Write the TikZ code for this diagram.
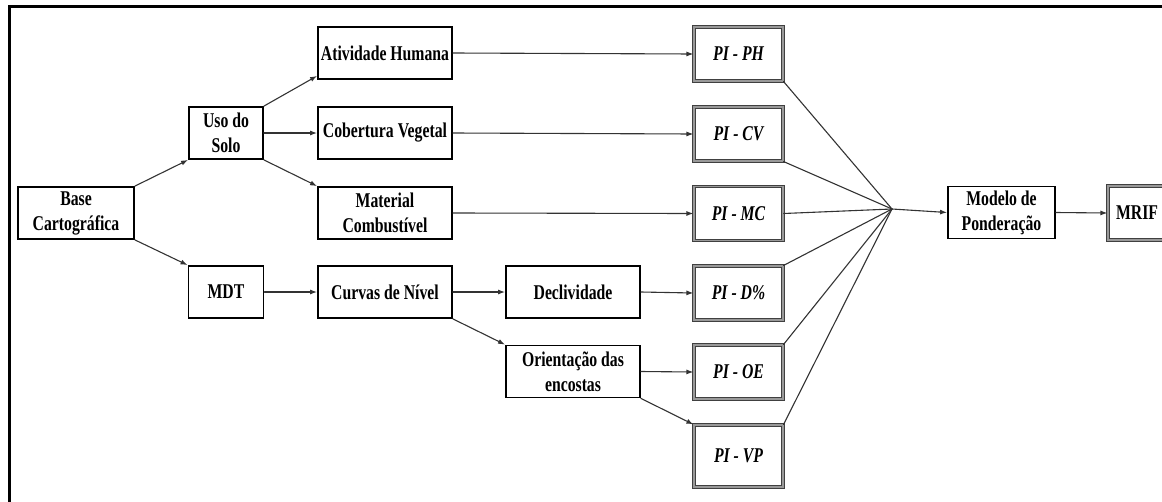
\documentclass[tikz,border=0pt]{standalone}
\usepackage{fontspec}
\setmainfont{Liberation Serif}[FakeStretch=0.75]
\usetikzlibrary{arrows.meta}

\tikzset{
  caixa/.style={draw, line width=1.8pt, inner sep=0pt, align=center, minimum height=52, font=\fontsize{21}{25}\selectfont\bfseries},
  caixapi/.style={draw=black!75, double=black!40, double distance=1.1pt, line width=1.1pt, inner sep=0pt, minimum width=89, minimum height=54, font=\fontsize{21}{25}\selectfont\bfseries\itshape},
  seta/.style={->, >={Latex[length=7pt,width=5pt]}, line width=1.1pt, draw=black!80},
  liga/.style={line width=1.1pt, draw=black!80}
}

\begin{document}
\begin{tikzpicture}[x=1pt, y=-1pt, line cap=round]
            \useasboundingbox (0,0) rectangle (1162,501);
            \clip (0,0) rectangle (1162,501);
            \draw[line width=3pt] (9,520) -- (9,6) -- (1180,6);  %moldura
            \node[caixa, minimum width=116] (base) at (76,213) {Base\\Cartográfica};
            \node[caixa, minimum width=74] (uso) at (226,133) {Uso do\\Solo};
            \node[caixa, minimum width=134] (ativ) at (385,53) {Atividade Humana};
            \node[caixa, minimum width=134] (cobe) at (385,133) {Cobertura Vegetal};
            \node[caixa, minimum width=134] (mate) at (385,213) {Material\\Combustível};
            \node[caixa, minimum width=75] (mdt) at (226,292) {MDT};
            \node[caixa, minimum width=134] (curv) at (385,292) {Curvas de Nível};
            \node[caixa, minimum width=134] (decl) at (573,292) {Declividade};
            \node[caixa, minimum width=134] (orie) at (573,371.5) {Orientação das\\encostas};
            \node[caixapi] (ph) at (738.5,54) {PI - PH};
            \node[caixapi] (cv) at (738.5,134) {PI - CV};
            \node[caixapi] (mc) at (738.5,213.5) {PI - MC};
            \node[caixapi] (dp) at (738.5,293) {PI - D\%};
            \node[caixapi] (oe) at (738.5,372) {PI - OE};
            \node[caixapi, minimum height=62] (vp) at (738.5,456) {PI - VP};
            \coordinate (hub) at (892,209);
            \node[caixa, minimum width=107] (mode) at (1001.5,212.5) {Modelo de\\Ponderação};
            \node[caixapi, minimum width=58, font=\fontsize{21}{25}\selectfont\bfseries] (mrif) at (1137,213) {MRIF};
            % setas
            \draw[seta] (base.north east) -- (uso.south west);
            \draw[seta] (base.south east) -- (mdt.north west);
            \draw[seta] (uso.north east) -- ([yshift=4pt]ativ.south west);
            \draw[seta] (uso.east) -- (cobe.west);
            \draw[seta] (uso.south east) -- (mate.north west);
            \draw[seta] (ativ.east) -- (ph.west);
            \draw[seta] (cobe.east) -- (cv.west);
            \draw[seta] (mate.east) -- (mc.west);
            \draw[seta] (mdt.east) -- (curv.west);
            \draw[seta] (curv.east) -- (decl.west);
            \draw[seta] (curv.south east) -- (orie.north west);
            \draw[seta] (decl.east) -- (dp.west);
            \draw[seta] (orie.east) -- (oe.west);
            \draw[seta] (orie.south east) -- (vp.north west);
            % ponderacao
            \draw[liga] (ph.south east) -- (hub);
            \draw[liga] (cv.south east) -- (hub);
            \draw[liga] (mc.east) -- (hub);
            \draw[liga] (dp.north east) -- (hub);
            \draw[liga] (oe.north east) -- (hub);
            \draw[liga] (vp.north east) -- (hub);
            \draw[seta] (hub) -- (mode.west);
            \draw[seta] (mode.east) -- (mrif.west);
\end{tikzpicture}
\end{document}
